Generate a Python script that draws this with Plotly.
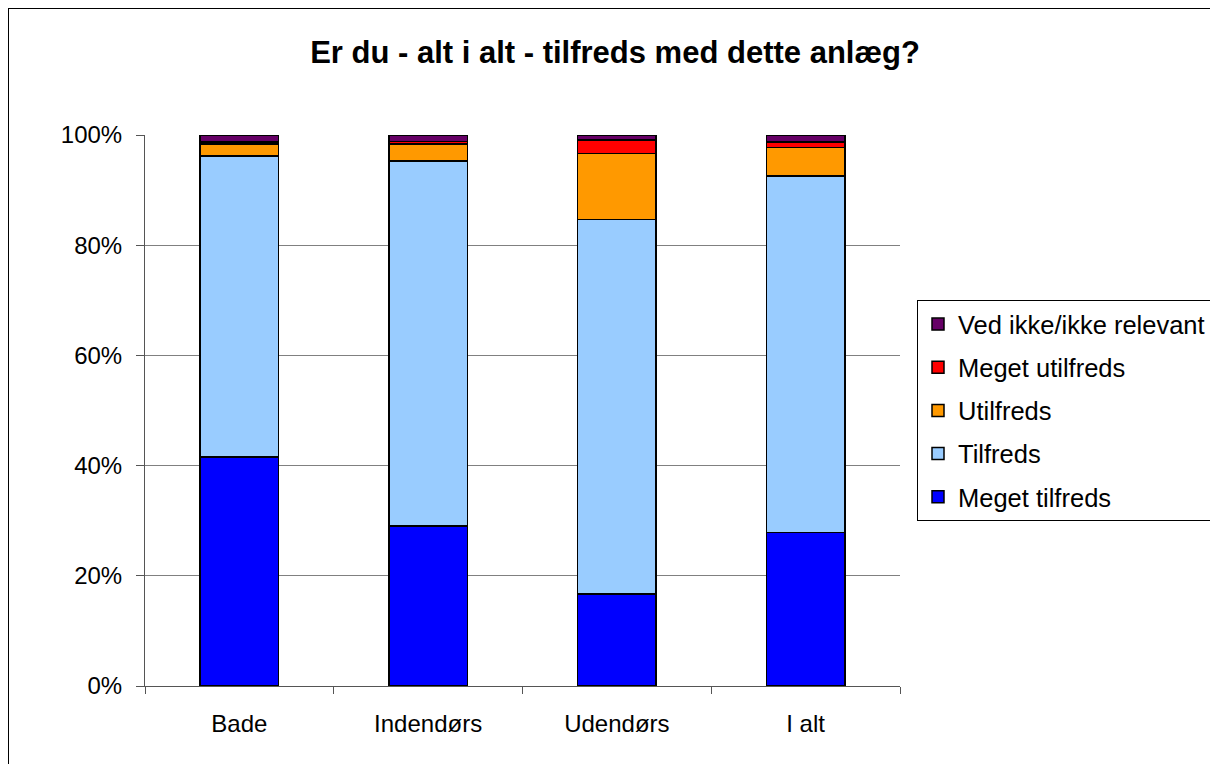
import plotly.graph_objects as go

categories = ["Bade", "Indendørs", "Udendørs", "I alt"]
meget_tilfreds = [41.6, 29.0, 16.7, 27.9]
tilfreds = [54.6, 66.3, 68.0, 64.7]
utilfreds = [2.2, 3.1, 11.9, 5.1]
meget_utilfreds = [0.3, 0.4, 2.5, 1.0]
ved_ikke = [1.3, 1.2, 0.9, 1.3]

series = [
    ("Meget tilfreds", meget_tilfreds, "#0000FF"),
    ("Tilfreds", tilfreds, "#99CCFF"),
    ("Utilfreds", utilfreds, "#FF9900"),
    ("Meget utilfreds", meget_utilfreds, "#FF0000"),
    ("Ved ikke/ikke relevant", ved_ikke, "#660066"),
]

FONT = "Liberation Sans, Arial, sans-serif"
OFF = 8  # page body margin

fig = go.Figure()
for i, (name, vals, color) in enumerate(series):
    fig.add_trace(go.Bar(
        x=categories, y=vals, name=name, legendgroup=name,
        legendrank=len(series) - i,
        marker=dict(color=color, line=dict(color="black", width=1.5)),
    ))

W, H = 1218, 764
L, R, T, B = 145 - OFF, 900 - OFF, 135 - OFF, 686 - OFF
pw, ph = R - L, B - T

def px(x):
    return (x - OFF - L) / pw

def py(y):
    return (B - (y - OFF)) / ph

fig.update_layout(
    width=W, height=H,
    margin=dict(l=L, r=W - R, t=T, b=H - B),
    barmode="stack",
    bargap=0.585,
    plot_bgcolor="white", paper_bgcolor="white",
    font=dict(family=FONT, size=24, color="black"),
    title=dict(text="<b>Er du - alt i alt - tilfreds med dette anlæg?</b>",
               x=(615 - OFF) / W, xanchor="center", y=1 - (52 - OFF) / H, yanchor="middle",
               font=dict(size=31, family=FONT, color="black")),
    legend=dict(x=px(917), xanchor="left", y=py(300), yanchor="top",
                traceorder="grouped", tracegroupgap=7,
                bordercolor="black", borderwidth=1,
                font=dict(size=25.5, family=FONT),
                itemwidth=30),
    xaxis=dict(showline=True, linecolor="#555555", linewidth=1,
               ticks="outside", tickson="boundaries", ticklen=7, tickcolor="#555555",
               ticklabelstandoff=16, showgrid=False),
    yaxis=dict(range=[0, 100], tickvals=[0, 20, 40, 60, 80, 100],
               ticktext=["0%", "20%", "40%", "60%", "80%", "100%"],
               showline=True, linecolor="#555555", linewidth=1,
               ticks="outside", ticklen=8, tickcolor="#555555",
               ticklabelstandoff=9,
               showgrid=True, gridcolor="#808080", gridwidth=1, zeroline=False),
    shapes=[
        dict(type="line", xref="paper", yref="paper", x0=(0 - L) / pw, x1=px(W + 20),
             y0=(B - 0) / ph, y1=(B - 0) / ph, line=dict(color="black", width=2)),
        dict(type="line", xref="paper", yref="paper", x0=(0 - L) / pw, x1=(0 - L) / pw,
             y0=(B - 0) / ph, y1=py(H + 20), line=dict(color="black", width=2)),
    ],
)

fig.write_html("out.html")
